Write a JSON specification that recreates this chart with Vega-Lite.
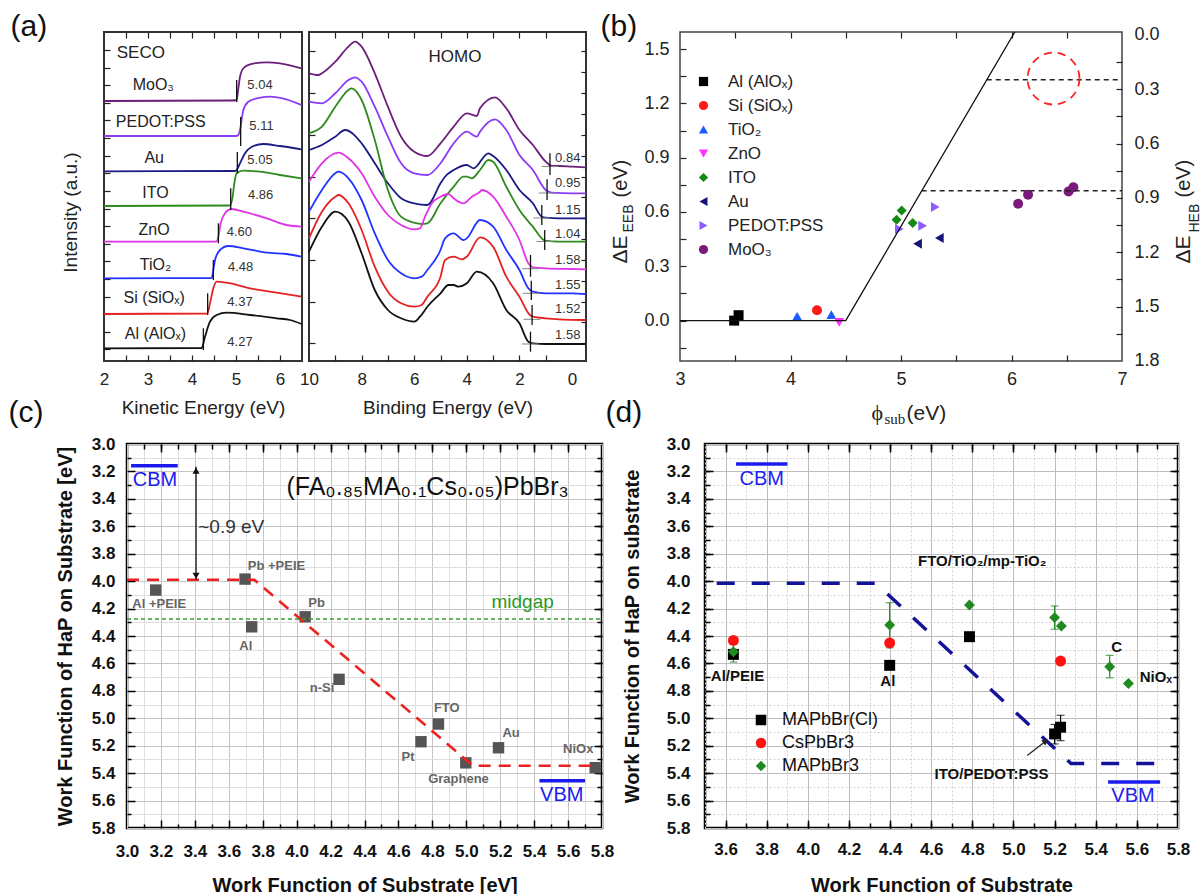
{
"$schema":"https://vega.github.io/schema/vega-lite/v6.json",
"autosize":"none",
"padding":{"left":104,"top":32,"right":1097,"bottom":862},
"background":"white",
"bounds":"flush",
"spacing":576,
"resolve":{"scale":{"color":"independent","shape":"independent"},"legend":{"color":"independent","shape":"independent"}},
"datasets":{
"seco":[
{"s":"MoO3","E":2.0,"I":260},{"s":"MoO3","E":4.9,"I":260.5},{"s":"MoO3","E":5.015,"I":261},{"s":"MoO3","E":5.06,"I":275},{"s":"MoO3","E":5.09,"I":284},{"s":"MoO3","E":5.167,"I":292.7},{"s":"MoO3","E":5.318,"I":296.7},{"s":"MoO3","E":5.697,"I":298.7},{"s":"MoO3","E":6.0,"I":297.7},{"s":"MoO3","E":6.49,"I":292.7},
{"s":"PEDOT","E":2.0,"I":225},{"s":"PEDOT","E":5.0,"I":225},{"s":"PEDOT","E":5.053,"I":226},{"s":"PEDOT","E":5.09,"I":231},{"s":"PEDOT","E":5.167,"I":251},{"s":"PEDOT","E":5.28,"I":259.3},{"s":"PEDOT","E":5.47,"I":262.7},{"s":"PEDOT","E":5.77,"I":264.3},{"s":"PEDOT","E":6.14,"I":261.7},{"s":"PEDOT","E":6.49,"I":256},
{"s":"Au","E":2.0,"I":189.7},{"s":"Au","E":4.98,"I":190},{"s":"Au","E":5.015,"I":191},{"s":"Au","E":5.09,"I":197.7},{"s":"Au","E":5.205,"I":207.7},{"s":"Au","E":5.36,"I":214.3},{"s":"Au","E":5.62,"I":217},{"s":"Au","E":6.0,"I":215},{"s":"Au","E":6.49,"I":211.7},
{"s":"ITO","E":2.0,"I":155},{"s":"ITO","E":4.864,"I":155.5},{"s":"ITO","E":4.924,"I":164.3},{"s":"ITO","E":4.962,"I":177.7},{"s":"ITO","E":5.015,"I":187.7},{"s":"ITO","E":5.167,"I":190.3},{"s":"ITO","E":5.545,"I":189.3},{"s":"ITO","E":6.0,"I":186},{"s":"ITO","E":6.49,"I":182.7},
{"s":"ZnO","E":2.0,"I":119.3},{"s":"ZnO","E":4.561,"I":119.5},{"s":"ZnO","E":4.598,"I":124.3},{"s":"ZnO","E":4.652,"I":137.7},{"s":"ZnO","E":4.75,"I":147.7},{"s":"ZnO","E":4.9,"I":152},{"s":"ZnO","E":5.167,"I":149.3},{"s":"ZnO","E":5.697,"I":142.7},{"s":"ZnO","E":6.152,"I":136},{"s":"ZnO","E":6.49,"I":134.3},
{"s":"TiO2","E":2.0,"I":82.7},{"s":"TiO2","E":4.447,"I":83},{"s":"TiO2","E":4.485,"I":91},{"s":"TiO2","E":4.523,"I":101},{"s":"TiO2","E":4.636,"I":111},{"s":"TiO2","E":4.826,"I":115},{"s":"TiO2","E":5.167,"I":112.7},{"s":"TiO2","E":5.697,"I":108.3},{"s":"TiO2","E":6.152,"I":107},{"s":"TiO2","E":6.49,"I":104.3},
{"s":"Si","E":2.0,"I":47},{"s":"Si","E":4.348,"I":47.5},{"s":"Si","E":4.409,"I":57.7},{"s":"Si","E":4.485,"I":72.7},{"s":"Si","E":4.561,"I":79.3},{"s":"Si","E":4.788,"I":78.3},{"s":"Si","E":5.318,"I":72.7},{"s":"Si","E":5.924,"I":68.3},{"s":"Si","E":6.49,"I":64.3},
{"s":"Al","E":2.0,"I":12.7},{"s":"Al","E":4.22,"I":13},{"s":"Al","E":4.295,"I":24.3},{"s":"Al","E":4.409,"I":39.3},{"s":"Al","E":4.561,"I":46},{"s":"Al","E":4.788,"I":48.3},{"s":"Al","E":5.318,"I":46},{"s":"Al","E":5.924,"I":42.7},{"s":"Al","E":6.227,"I":41},{"s":"Al","E":6.49,"I":37}
],
"secoTick":[
{"E":5.015,"I1":259,"I2":281},{"E":5.106,"I1":215,"I2":244},{"E":5.03,"I1":187.7,"I2":209},{"E":4.88,"I1":151,"I2":172.7},{"E":4.6,"I1":117.7,"I2":137.7},{"E":4.485,"I1":81,"I2":101},{"E":4.356,"I1":46,"I2":67.7},{"E":4.258,"I1":11,"I2":32.7}
],
"secoName":[
{"t":"MoO₃","E":3.12,"I":276},{"t":"PEDOT:PSS","E":3.29,"I":239.3},{"t":"Au","E":3.14,"I":202.7},{"t":"ITO","E":3.17,"I":167.7},{"t":"ZnO","E":3.14,"I":131},{"t":"TiO₂","E":3.17,"I":96},{"t":"Si (SiOₓ)","E":3.14,"I":62.7},{"t":"Al (AlOₓ)","E":3.17,"I":27}
],
"secoVal":[
{"t":"5.04","E":5.545,"I":276},{"t":"5.11","E":5.58,"I":235.3},{"t":"5.05","E":5.545,"I":201},{"t":"4.86","E":5.56,"I":166},{"t":"4.60","E":5.076,"I":128.7},{"t":"4.48","E":5.106,"I":93.7},{"t":"4.37","E":5.09,"I":59.3},{"t":"4.27","E":5.09,"I":19.3}
],
"secoTitle":[{"t":"SECO","E":2.29,"I":307.7}],
"homo":[
{"s":"MoO3","B":10,"I":287.7},{"s":"MoO3","B":9.65,"I":286},{"s":"MoO3","B":9.51,"I":287.7},{"s":"MoO3","B":9.0,"I":299.3},{"s":"MoO3","B":8.5,"I":314.3},{"s":"MoO3","B":8.25,"I":319.3},{"s":"MoO3","B":8.0,"I":314.3},{"s":"MoO3","B":7.5,"I":287.7},{"s":"MoO3","B":7.0,"I":254.3},{"s":"MoO3","B":6.5,"I":224.3},{"s":"MoO3","B":6.0,"I":209.3},{"s":"MoO3","B":5.5,"I":205},{"s":"MoO3","B":5.0,"I":217.7},{"s":"MoO3","B":4.5,"I":234.3},{"s":"MoO3","B":4.0,"I":247.7},{"s":"MoO3","B":3.62,"I":245},{"s":"MoO3","B":3.5,"I":252.7},{"s":"MoO3","B":2.93,"I":263.7},{"s":"MoO3","B":2.5,"I":252.7},{"s":"MoO3","B":2.0,"I":231},{"s":"MoO3","B":1.49,"I":216},{"s":"MoO3","B":1.0,"I":199.3},{"s":"MoO3","B":0.77,"I":195},{"s":"MoO3","B":0.49,"I":195},{"s":"MoO3","B":0.0,"I":194.3},{"s":"MoO3","B":-0.53,"I":193.7},
{"s":"PEDOT","B":10,"I":259.3},{"s":"PEDOT","B":9.51,"I":257.7},{"s":"PEDOT","B":9.0,"I":267.7},{"s":"PEDOT","B":8.5,"I":281},{"s":"PEDOT","B":8.25,"I":283.7},{"s":"PEDOT","B":8.0,"I":279.3},{"s":"PEDOT","B":7.5,"I":254.3},{"s":"PEDOT","B":7.0,"I":224.3},{"s":"PEDOT","B":6.5,"I":197.7},{"s":"PEDOT","B":6.0,"I":187.7},{"s":"PEDOT","B":5.5,"I":186},{"s":"PEDOT","B":5.0,"I":197.7},{"s":"PEDOT","B":4.5,"I":217.7},{"s":"PEDOT","B":4.0,"I":229.3},{"s":"PEDOT","B":3.62,"I":224.3},{"s":"PEDOT","B":3.5,"I":229.3},{"s":"PEDOT","B":2.93,"I":241.7},{"s":"PEDOT","B":2.5,"I":231},{"s":"PEDOT","B":2.0,"I":206},{"s":"PEDOT","B":1.49,"I":191},{"s":"PEDOT","B":1.0,"I":171},{"s":"PEDOT","B":0.77,"I":168.3},{"s":"PEDOT","B":0.0,"I":167.7},{"s":"PEDOT","B":-0.53,"I":167.7},
{"s":"Au","B":10,"I":211},{"s":"Au","B":9.51,"I":216},{"s":"Au","B":9.0,"I":224.3},{"s":"Au","B":8.63,"I":231},{"s":"Au","B":8.0,"I":217.7},{"s":"Au","B":7.5,"I":197.7},{"s":"Au","B":7.0,"I":177.7},{"s":"Au","B":6.5,"I":162.7},{"s":"Au","B":6.0,"I":157.7},{"s":"Au","B":5.5,"I":156},{"s":"Au","B":5.0,"I":177.7},{"s":"Au","B":4.83,"I":184.3},{"s":"Au","B":4.5,"I":191},{"s":"Au","B":4.0,"I":196},{"s":"Au","B":3.75,"I":192.7},{"s":"Au","B":3.18,"I":207.7},{"s":"Au","B":3.0,"I":205},{"s":"Au","B":2.5,"I":191},{"s":"Au","B":2.0,"I":171},{"s":"Au","B":1.49,"I":157.7},{"s":"Au","B":1.15,"I":144.3},{"s":"Au","B":1.0,"I":143.3},{"s":"Au","B":0.49,"I":142.7},{"s":"Au","B":-0.53,"I":142.7},
{"s":"ITO","B":10,"I":227.7},{"s":"ITO","B":9.51,"I":234.3},{"s":"ITO","B":9.0,"I":254.3},{"s":"ITO","B":8.5,"I":271},{"s":"ITO","B":8.38,"I":272.7},{"s":"ITO","B":8.0,"I":261},{"s":"ITO","B":7.5,"I":221},{"s":"ITO","B":7.0,"I":171},{"s":"ITO","B":6.5,"I":144.3},{"s":"ITO","B":6.0,"I":138.3},{"s":"ITO","B":5.72,"I":137},{"s":"ITO","B":5.5,"I":137.7},{"s":"ITO","B":5.0,"I":157.7},{"s":"ITO","B":4.5,"I":174.3},{"s":"ITO","B":4.13,"I":184.3},{"s":"ITO","B":4.0,"I":184.3},{"s":"ITO","B":3.81,"I":182.7},{"s":"ITO","B":3.5,"I":191},{"s":"ITO","B":3.18,"I":201},{"s":"ITO","B":3.0,"I":199.3},{"s":"ITO","B":2.5,"I":174.3},{"s":"ITO","B":2.0,"I":151},{"s":"ITO","B":1.49,"I":134.3},{"s":"ITO","B":1.03,"I":120.3},{"s":"ITO","B":0.49,"I":119.3},{"s":"ITO","B":-0.53,"I":119.3},
{"s":"ZnO","B":10,"I":179.3},{"s":"ZnO","B":9.51,"I":197.7},{"s":"ZnO","B":8.88,"I":208.3},{"s":"ZnO","B":8.5,"I":202.7},{"s":"ZnO","B":8.0,"I":187.7},{"s":"ZnO","B":7.5,"I":164.3},{"s":"ZnO","B":7.0,"I":146},{"s":"ZnO","B":6.5,"I":136},{"s":"ZnO","B":6.0,"I":131.7},{"s":"ZnO","B":5.78,"I":132.7},{"s":"ZnO","B":5.59,"I":144.3},{"s":"ZnO","B":5.33,"I":157.7},{"s":"ZnO","B":5.0,"I":164.3},{"s":"ZnO","B":4.7,"I":167},{"s":"ZnO","B":4.5,"I":162.7},{"s":"ZnO","B":4.13,"I":157.7},{"s":"ZnO","B":3.81,"I":164.3},{"s":"ZnO","B":3.5,"I":169.3},{"s":"ZnO","B":3.43,"I":171},{"s":"ZnO","B":3.0,"I":164.3},{"s":"ZnO","B":2.5,"I":144.3},{"s":"ZnO","B":2.0,"I":121},{"s":"ZnO","B":1.66,"I":97.7},{"s":"ZnO","B":1.49,"I":93.7},{"s":"ZnO","B":1.0,"I":92.7},{"s":"ZnO","B":0.0,"I":92},{"s":"ZnO","B":-0.53,"I":91.7},
{"s":"TiO2","B":10,"I":149.3},{"s":"TiO2","B":9.51,"I":171},{"s":"TiO2","B":9.0,"I":187.7},{"s":"TiO2","B":8.88,"I":189.3},{"s":"TiO2","B":8.5,"I":182.7},{"s":"TiO2","B":8.0,"I":161},{"s":"TiO2","B":7.5,"I":127.7},{"s":"TiO2","B":7.0,"I":101},{"s":"TiO2","B":6.5,"I":87.7},{"s":"TiO2","B":6.0,"I":82.7},{"s":"TiO2","B":5.72,"I":84.3},{"s":"TiO2","B":5.5,"I":91},{"s":"TiO2","B":5.0,"I":111},{"s":"TiO2","B":4.83,"I":122.7},{"s":"TiO2","B":4.5,"I":127.7},{"s":"TiO2","B":4.13,"I":121},{"s":"TiO2","B":4.0,"I":122.7},{"s":"TiO2","B":3.5,"I":141},{"s":"TiO2","B":3.0,"I":134.3},{"s":"TiO2","B":2.5,"I":111},{"s":"TiO2","B":2.0,"I":91},{"s":"TiO2","B":1.66,"I":72.7},{"s":"TiO2","B":1.49,"I":69.3},{"s":"TiO2","B":1.0,"I":67.7},{"s":"TiO2","B":0.0,"I":67.7},{"s":"TiO2","B":-0.53,"I":67},
{"s":"Si","B":10,"I":122.7},{"s":"Si","B":9.51,"I":149.3},{"s":"Si","B":9.0,"I":164.3},{"s":"Si","B":8.88,"I":166},{"s":"Si","B":8.5,"I":157.7},{"s":"Si","B":8.0,"I":131},{"s":"Si","B":7.5,"I":94.3},{"s":"Si","B":7.0,"I":69.3},{"s":"Si","B":6.5,"I":57.7},{"s":"Si","B":6.0,"I":54.3},{"s":"Si","B":5.72,"I":56},{"s":"Si","B":5.5,"I":64.3},{"s":"Si","B":5.0,"I":84.3},{"s":"Si","B":4.83,"I":101},{"s":"Si","B":4.5,"I":104.3},{"s":"Si","B":4.19,"I":101.7},{"s":"Si","B":4.0,"I":104.3},{"s":"Si","B":3.5,"I":123.7},{"s":"Si","B":3.0,"I":114.3},{"s":"Si","B":2.5,"I":84.3},{"s":"Si","B":2.0,"I":64.3},{"s":"Si","B":1.6,"I":46},{"s":"Si","B":1.49,"I":44.3},{"s":"Si","B":1.0,"I":42.7},{"s":"Si","B":0.49,"I":41.7},{"s":"Si","B":-0.53,"I":41},
{"s":"Al","B":10,"I":109.3},{"s":"Al","B":9.51,"I":134.3},{"s":"Al","B":9.0,"I":149.3},{"s":"Al","B":8.5,"I":139.3},{"s":"Al","B":8.0,"I":107.7},{"s":"Al","B":7.5,"I":71},{"s":"Al","B":7.0,"I":51},{"s":"Al","B":6.5,"I":42.7},{"s":"Al","B":6.0,"I":39.3},{"s":"Al","B":5.78,"I":44.3},{"s":"Al","B":5.5,"I":54.3},{"s":"Al","B":5.0,"I":67.7},{"s":"Al","B":4.7,"I":76},{"s":"Al","B":4.5,"I":76},{"s":"Al","B":4.32,"I":74.3},{"s":"Al","B":4.0,"I":77.7},{"s":"Al","B":3.62,"I":89.3},{"s":"Al","B":3.0,"I":77.7},{"s":"Al","B":2.5,"I":51},{"s":"Al","B":2.0,"I":37.7},{"s":"Al","B":1.66,"I":19.3},{"s":"Al","B":1.49,"I":17.7},{"s":"Al","B":1.0,"I":17},{"s":"Al","B":-0.53,"I":17}
],
"homoTick":[
{"B":0.84,"I1":186,"I2":207.7},{"B":0.95,"I1":161,"I2":181.7},{"B":1.15,"I1":136,"I2":156},{"B":1.04,"I1":111,"I2":131},{"B":1.58,"I1":84.3,"I2":106},{"B":1.55,"I1":61,"I2":80.3},{"B":1.52,"I1":36,"I2":56},{"B":1.58,"I1":9.3,"I2":29.3}
],
"homoBase":[
{"B1":1.16,"B2":0.52,"I":194.5},{"B1":1.27,"B2":0.63,"I":168},{"B1":1.47,"B2":0.83,"I":143},{"B1":1.36,"B2":0.72,"I":119.5},{"B1":1.9,"B2":1.26,"I":92.3},{"B1":1.87,"B2":1.23,"I":67.7},{"B1":1.84,"B2":1.2,"I":41.7},{"B1":1.9,"B2":1.26,"I":17}
],
"homoVal":[
{"t":"0.84","B":0.646,"I":203.3},{"t":"0.95","B":0.646,"I":177.7},{"t":"1.15","B":0.646,"I":151},{"t":"1.04","B":0.646,"I":127},{"t":"1.58","B":0.646,"I":101},{"t":"1.55","B":0.646,"I":76},{"t":"1.52","B":0.646,"I":51.7},{"t":"1.58","B":0.646,"I":26}
],
"homoTitle":[{"t":"HOMO","B":4.45,"I":304}],
"bpts":[
{"m":"Al (AlOₓ)","x":3.49,"y":0.0},{"m":"Al (AlOₓ)","x":3.53,"y":0.03},
{"m":"Si (SiOₓ)","x":4.24,"y":0.057},
{"m":"TiO₂","x":4.06,"y":0.024},{"m":"TiO₂","x":4.37,"y":0.033},
{"m":"ZnO","x":4.44,"y":-0.01},
{"m":"ITO","x":5.006,"y":0.608},{"m":"ITO","x":4.96,"y":0.557},{"m":"ITO","x":5.106,"y":0.539},
{"m":"Au","x":5.15,"y":0.425},{"m":"Au","x":5.347,"y":0.456},
{"m":"PEDOT:PSS","x":4.985,"y":0.506},{"m":"PEDOT:PSS","x":5.196,"y":0.524},{"m":"PEDOT:PSS","x":5.31,"y":0.627},
{"m":"MoO₃","x":6.06,"y":0.645},{"m":"MoO₃","x":6.15,"y":0.695},{"m":"MoO₃","x":6.516,"y":0.713},{"m":"MoO₃","x":6.56,"y":0.737}
],
"bline":[{"x":3,"y":0},{"x":4.5,"y":0},{"x":6.03,"y":1.594}],
"bdash":[{"g":"a","x":5.776,"y":1.33},{"g":"a","x":7,"y":1.33},{"g":"b","x":5.187,"y":0.717},{"g":"b","x":7,"y":0.717}],
"bcircle":[{"x":6.38,"y":1.337}],
"cpts":[
{"n":"Al +PEIE","x":3.169,"y":4.065},{"n":"Pb +PEIE","x":3.696,"y":3.985},{"n":"Al","x":3.735,"y":4.333},{"n":"Pb","x":4.05,"y":4.26},{"n":"n-Si","x":4.25,"y":4.716},{"n":"Pt","x":4.733,"y":5.171},{"n":"FTO","x":4.836,"y":5.042},{"n":"Graphene","x":4.997,"y":5.325},{"n":"Au","x":5.19,"y":5.215},{"n":"NiOx","x":5.76,"y":5.36}
],
"clab":[
{"t":"Al +PEIE","x":3.19,"y":4.17},{"t":"Pb +PEIE","x":3.881,"y":3.888},{"t":"Al","x":3.70,"y":4.473},{"t":"Pb","x":4.118,"y":4.157},{"t":"n-Si","x":4.15,"y":4.78},{"t":"Pt","x":4.657,"y":5.28},{"t":"FTO","x":4.885,"y":4.928},{"t":"Graphene","x":4.954,"y":5.443},{"t":"Au","x":5.264,"y":5.106},{"t":"NiOx","x":5.66,"y":5.227}
],
"cred":[{"x":3.0,"y":3.99},{"x":3.75,"y":3.99},{"x":5.04,"y":5.346},{"x":5.78,"y":5.346}],
"cmid":[{"x":3.0,"y":4.276},{"x":5.8,"y":4.276}],
"cband":[{"x1":3.024,"x2":3.299,"y":3.158},{"x1":5.431,"x2":5.70,"y":5.456}],
"cbandText":[{"t":"CBM","x":3.165,"y":3.263},{"t":"VBM","x":5.563,"y":5.56}],
"carrow":[{"x":3.407,"y1":3.165,"y2":3.99}],
"cnote":[{"t":"~0.9 eV","x":3.42,"y":3.608}],
"cmidText":[{"t":"midgap","x":5.332,"y":4.15}],
"cformula":[{"t":"(FA₀.₈₅MA₀.₁Cs₀.₀₅)PbBr₃","x":4.772,"y":3.31}],
"dpts":[
{"series":"MAPbBr(Cl)","x":3.638,"y":4.534},{"series":"MAPbBr(Cl)","x":4.398,"y":4.614},{"series":"MAPbBr(Cl)","x":4.786,"y":4.405},{"series":"MAPbBr(Cl)","x":5.2,"y":5.114},{"series":"MAPbBr(Cl)","x":5.229,"y":5.065},
{"series":"CsPbBr3","x":3.638,"y":4.432},{"series":"CsPbBr3","x":4.398,"y":4.451},{"series":"CsPbBr3","x":5.229,"y":4.583},
{"series":"MAPbBr3","x":3.638,"y":4.515},{"series":"MAPbBr3","x":4.398,"y":4.32},{"series":"MAPbBr3","x":4.786,"y":4.174},{"series":"MAPbBr3","x":5.2,"y":4.266},{"series":"MAPbBr3","x":5.233,"y":4.327},{"series":"MAPbBr3","x":5.468,"y":4.624},{"series":"MAPbBr3","x":5.559,"y":4.746}
],
"derrG":[
{"x":3.638,"lo":4.46,"hi":4.59},{"x":4.398,"lo":4.157,"hi":4.486},{"x":5.2,"lo":4.181,"hi":4.351},{"x":5.468,"lo":4.541,"hi":4.705}
],
"derrK":[
{"x":5.2,"lo":5.045,"hi":5.187},{"x":5.229,"lo":4.978,"hi":5.163}
],
"dline":[{"x":3.557,"y":4.015},{"x":4.33,"y":4.015},{"x":5.28,"y":5.33},{"x":5.733,"y":5.33}],
"dband":[{"x1":3.651,"x2":3.901,"y":3.146},{"x1":5.46,"x2":5.713,"y":5.464}],
"dbandText":[{"t":"CBM","x":3.776,"y":3.256},{"t":"VBM","x":5.581,"y":5.569}],
"dlab":[
{"t":"Al/PEIE","x":3.658,"y":4.693},{"t":"Al","x":4.389,"y":4.729},{"t":"FTO/TiO₂/mp-TiO₂","x":4.848,"y":3.852},{"t":"ITO/PEDOT:PSS","x":4.893,"y":5.406},{"t":"C","x":5.502,"y":4.481},{"t":"NiOₓ","x":5.692,"y":4.70}
],
"darrow":[{"x":5.067,"y":5.272,"x2":5.156,"y2":5.167}]
},
"hconcat":[
{"vconcat":[
 {"hconcat":[
  {"width":198,"height":329,
   "view":{"stroke":"#333","strokeWidth":2},
   "resolve":{"axis":{"x":"independent","y":"independent"}},
   "layer":[
    {"data":{"name":"seco"},"mark":{"type":"line","strokeWidth":1.8,"interpolate":"monotone"},
     "encoding":{
      "x":{"field":"E","type":"quantitative","scale":{"domain":[2,6.5],"nice":false,"zero":false},"axis":{"orient":"bottom","values":[2,3,4,5,6],"ticks":false,"labelFontSize":17,"labelPadding":10,"labelFlush":false,"labelOverlap":false,"title":"Kinetic Energy (eV)","titleFontSize":19,"titleY":46,"titleBaseline":"middle"}},
      "y":{"field":"I","type":"quantitative","scale":{"domain":[0,329],"nice":false,"zero":false},"axis":{"orient":"left","values":[11.7,29.3,46.9,64.5,82.1,99.7,117.3,134.9,152.5,170.1,187.7,205.3,222.9,240.5,258.1,275.7,293.3,310.9],"labels":false,"tickSize":-6,"title":"Intensity (a.u.)","titleFontSize":19,"titleAngle":270,"titleX":-34,"titleY":180,"titleAlign":"center","titleBaseline":"middle"}},
      "color":{"field":"s","type":"nominal","scale":{"domain":["MoO3","PEDOT","Au","ITO","ZnO","TiO2","Si","Al"],"range":["#6b1f7b","#8a3cf5","#1b1b85","#2e8a1e","#e033e8","#2233ff","#e52222","#111111"]},"legend":null}
     }},
    {"data":{"name":"secoTick"},"mark":{"type":"rule","color":"#111","strokeWidth":1.3},
     "encoding":{
      "x":{"field":"E","type":"quantitative","scale":{"domain":[2,6.5],"nice":false,"zero":false},"axis":{"orient":"top","values":[2.5,3,3.5,4,4.5,5,5.5,6],"labels":false,"tickSize":-6,"title":null}},
      "y":{"field":"I1","type":"quantitative","scale":{"domain":[0,329],"nice":false,"zero":false},"axis":null},
      "y2":{"field":"I2"}
     }},
    {"data":{"name":"secoName"},"mark":{"type":"text","fontSize":16,"color":"#222"},
     "encoding":{
      "x":{"field":"E","type":"quantitative","scale":{"domain":[2,6.5],"nice":false,"zero":false},"axis":{"orient":"bottom","values":[2.5,3,3.5,4,4.5,5,5.5,6],"labels":false,"tickSize":-6,"title":null}},
      "y":{"field":"I","type":"quantitative","scale":{"domain":[0,329],"nice":false,"zero":false},"axis":null},
      "text":{"field":"t"}
     }},
    {"data":{"name":"secoVal"},"mark":{"type":"text","fontSize":13,"color":"#333"},
     "encoding":{
      "x":{"field":"E","type":"quantitative","scale":{"domain":[2,6.5],"nice":false,"zero":false},"axis":{"orient":"top","labels":false,"ticks":false,"title":"(a)","titleFontSize":30,"titleColor":"#111","titleX":-94,"titleY":3,"titleAlign":"left","titleBaseline":"alphabetic"}},
      "y":{"field":"I","type":"quantitative","scale":{"domain":[0,329],"nice":false,"zero":false},"axis":null},
      "text":{"field":"t"}
     }},
    {"data":{"name":"secoTitle"},"mark":{"type":"text","fontSize":17,"align":"left","color":"#222"},
     "encoding":{
      "x":{"field":"E","type":"quantitative","scale":{"domain":[2,6.5],"nice":false,"zero":false},"axis":null},
      "y":{"field":"I","type":"quantitative","scale":{"domain":[0,329],"nice":false,"zero":false},"axis":null},
      "text":{"field":"t"}
     }}
   ]},
  {"width":277,"height":329,
   "view":{"stroke":"#333","strokeWidth":2},
   "resolve":{"axis":{"x":"independent","y":"independent"}},
   "layer":[
    {"data":{"name":"homo"},"mark":{"type":"line","strokeWidth":1.8,"interpolate":"monotone"},
     "encoding":{
      "x":{"field":"B","type":"quantitative","scale":{"domain":[-0.53,10],"reverse":true,"nice":false,"zero":false},"axis":{"orient":"bottom","values":[10,8,6,4,2,0],"ticks":false,"labelFontSize":17,"labelPadding":10,"labelFlush":false,"labelOverlap":false,"title":"Binding Energy (eV)","titleFontSize":19,"titleY":46,"titleBaseline":"middle"}},
      "y":{"field":"I","type":"quantitative","scale":{"domain":[0,329],"nice":false,"zero":false},"axis":{"orient":"left","values":[17.7,59.4,101.1,142.8,184.5,226.2,267.9,309.6],"labels":false,"tickSize":-6,"title":null}},
      "color":{"field":"s","type":"nominal","scale":{"domain":["MoO3","PEDOT","Au","ITO","ZnO","TiO2","Si","Al"],"range":["#6b1f7b","#8a3cf5","#1b1b85","#2e8a1e","#e033e8","#2233ff","#e52222","#111111"]},"legend":null}
     }},
    {"data":{"name":"homoBase"},"mark":{"type":"rule","color":"#888","strokeWidth":1},
     "encoding":{
      "x":{"field":"B1","type":"quantitative","scale":{"domain":[-0.53,10],"reverse":true,"nice":false,"zero":false},"axis":{"orient":"top","values":[1,2,3,4,5,6,7,8,9],"labels":false,"tickSize":-6,"title":null}},
      "x2":{"field":"B2"},
      "y":{"field":"I","type":"quantitative","scale":{"domain":[0,329],"nice":false,"zero":false},"axis":{"orient":"right","values":[17.7,38.55,59.4,80.25,101.1,121.95,142.8,163.65,184.5,205.35,226.2,247.05,267.9,288.75,309.6],"labels":false,"tickSize":-5,"title":null}}
     }},
    {"data":{"name":"homoTick"},"mark":{"type":"rule","color":"#111","strokeWidth":1.3},
     "encoding":{
      "x":{"field":"B","type":"quantitative","scale":{"domain":[-0.53,10],"reverse":true,"nice":false,"zero":false},"axis":{"orient":"bottom","values":[1,2,3,4,5,6,7,8,9],"labels":false,"tickSize":-6,"title":null}},
      "y":{"field":"I1","type":"quantitative","scale":{"domain":[0,329],"nice":false,"zero":false},"axis":null},
      "y2":{"field":"I2"}
     }},
    {"data":{"name":"homoVal"},"mark":{"type":"text","fontSize":13,"align":"left","color":"#333"},
     "encoding":{
      "x":{"field":"B","type":"quantitative","scale":{"domain":[-0.53,10],"reverse":true,"nice":false,"zero":false},"axis":null},
      "y":{"field":"I","type":"quantitative","scale":{"domain":[0,329],"nice":false,"zero":false},"axis":null},
      "text":{"field":"t"}
     }},
    {"data":{"name":"homoTitle"},"mark":{"type":"text","fontSize":17,"color":"#222"},
     "encoding":{
      "x":{"field":"B","type":"quantitative","scale":{"domain":[-0.53,10],"reverse":true,"nice":false,"zero":false},"axis":null},
      "y":{"field":"I","type":"quantitative","scale":{"domain":[0,329],"nice":false,"zero":false},"axis":null},
      "text":{"field":"t"}
     }}
   ]}
 ],"spacing":7,"bounds":"flush","resolve":{"scale":{"color":"independent","shape":"independent"}}},
 {"hconcat":[
  {"width":1,"height":1,"view":{"stroke":null},"data":{"values":[{"v":0}]},"mark":{"type":"point","opacity":0},
   "encoding":{"x":{"field":"v","type":"quantitative","axis":null},"y":{"field":"v","type":"quantitative","axis":null}}},
  {"width":475,"height":384,
   "view":{"stroke":"#000","strokeWidth":2.5},
   "resolve":{"axis":{"x":"independent","y":"independent"}},
   "layer":[
    {"data":{"name":"cpts"},"mark":{"type":"square","size":130,"color":"#555555","opacity":1},
     "encoding":{
      "x":{"field":"x","type":"quantitative","scale":{"domain":[3,5.8],"nice":false,"zero":false},"axis":{"orient":"bottom","values":[3,3.2,3.4,3.6,3.8,4,4.2,4.4,4.6,4.8,5,5.2,5.4,5.6,5.8],"format":".1f","ticks":false,"grid":true,"gridColor":"#c4c4c4","gridWidth":1,"labelFontSize":17,"labelFontWeight":"bold","labelColor":"#111","labelPadding":15,"labelFlush":false,"labelOverlap":false,"title":"Work Function of Substrate [eV]","titleFontSize":20,"titleFontWeight":"bold","titleColor":"#111","titleY":57,"titleBaseline":"middle"}},
      "y":{"field":"y","type":"quantitative","scale":{"domain":[3,5.8],"reverse":true,"nice":false,"zero":false},"axis":{"orient":"left","values":[3,3.2,3.4,3.6,3.8,4,4.2,4.4,4.6,4.8,5,5.2,5.4,5.6,5.8],"format":".1f","ticks":false,"grid":true,"gridColor":"#c4c4c4","gridWidth":1,"labelFontSize":17,"labelFontWeight":"bold","labelColor":"#111","labelPadding":12,"labelFlush":false,"labelOverlap":false,"title":"Work Function of HaP on Substrate [eV]","titleFontSize":20,"titleFontWeight":"bold","titleColor":"#111","titleAngle":270,"titleX":-62,"titleY":192,"titleAlign":"center","titleBaseline":"middle"}}
     }},
    {"data":{"name":"clab"},"mark":{"type":"text","fontSize":13,"fontWeight":"bold","color":"#666666"},
     "encoding":{
      "x":{"field":"x","type":"quantitative","scale":{"domain":[3,5.8],"nice":false,"zero":false},"axis":{"orient":"bottom","values":[3.1,3.3,3.5,3.7,3.9,4.1,4.3,4.5,4.7,4.9,5.1,5.3,5.5,5.7],"labels":false,"ticks":false,"grid":true,"gridColor":"#dedede","gridWidth":1,"title":null}},
      "y":{"field":"y","type":"quantitative","scale":{"domain":[3,5.8],"reverse":true,"nice":false,"zero":false},"axis":{"orient":"left","values":[3.1,3.3,3.5,3.7,3.9,4.1,4.3,4.5,4.7,4.9,5.1,5.3,5.5,5.7],"labels":false,"ticks":false,"grid":true,"gridColor":"#dedede","gridWidth":1,"title":null}},
      "text":{"field":"t"}
     }},
    {"data":{"name":"cred"},"mark":{"type":"line","color":"#ee2020","strokeWidth":2.6,"strokeDash":[12,8]},
     "encoding":{
      "x":{"field":"x","type":"quantitative","scale":{"domain":[3,5.8],"nice":false,"zero":false},"axis":{"orient":"bottom","values":[3.1,3.3,3.5,3.7,3.9,4.1,4.3,4.5,4.7,4.9,5.1,5.3,5.5,5.7],"labels":false,"tickSize":-4,"tickColor":"#000","tickWidth":1.5,"title":null}},
      "y":{"field":"y","type":"quantitative","scale":{"domain":[3,5.8],"reverse":true,"nice":false,"zero":false},"axis":{"orient":"left","values":[3.1,3.3,3.5,3.7,3.9,4.1,4.3,4.5,4.7,4.9,5.1,5.3,5.5,5.7],"labels":false,"tickSize":-4,"tickColor":"#000","tickWidth":1.5,"title":null}}
     }},
    {"data":{"name":"cmid"},"mark":{"type":"line","color":"#3a9a3a","strokeWidth":1.3,"strokeDash":[4,3]},
     "encoding":{
      "x":{"field":"x","type":"quantitative","scale":{"domain":[3,5.8],"nice":false,"zero":false},"axis":{"orient":"top","values":[3.1,3.2,3.3,3.4,3.5,3.6,3.7,3.8,3.9,4,4.1,4.2,4.3,4.4,4.5,4.6,4.7,4.8,4.9,5,5.1,5.2,5.3,5.4,5.5,5.6,5.7],"labels":false,"tickSize":-5,"tickColor":"#000","tickWidth":1.5,"title":null}},
      "y":{"field":"y","type":"quantitative","scale":{"domain":[3,5.8],"reverse":true,"nice":false,"zero":false},"axis":{"orient":"right","values":[3.1,3.2,3.3,3.4,3.5,3.6,3.7,3.8,3.9,4,4.1,4.2,4.3,4.4,4.5,4.6,4.7,4.8,4.9,5,5.1,5.2,5.3,5.4,5.5,5.6,5.7],"labels":false,"tickSize":-5,"tickColor":"#000","tickWidth":1.5,"title":null}}
     }},
    {"data":{"name":"cband"},"mark":{"type":"rule","color":"#1a1aee","strokeWidth":3.5},
     "encoding":{
      "x":{"field":"x1","type":"quantitative","scale":{"domain":[3,5.8],"nice":false,"zero":false},"axis":{"orient":"bottom","values":[3.2,3.4,3.6,3.8,4,4.2,4.4,4.6,4.8,5,5.2,5.4,5.6],"labels":false,"tickSize":-8,"tickColor":"#000","tickWidth":1.5,"title":null}},
      "x2":{"field":"x2"},
      "y":{"field":"y","type":"quantitative","scale":{"domain":[3,5.8],"reverse":true,"nice":false,"zero":false},"axis":{"orient":"left","values":[3.2,3.4,3.6,3.8,4,4.2,4.4,4.6,4.8,5,5.2,5.4,5.6],"labels":false,"tickSize":-8,"tickColor":"#000","tickWidth":1.5,"title":null}}
     }},
    {"data":{"name":"cbandText"},"mark":{"type":"text","fontSize":20,"color":"#1a1aee"},
     "encoding":{
      "x":{"field":"x","type":"quantitative","scale":{"domain":[3,5.8],"nice":false,"zero":false},"axis":{"orient":"top","values":[3.2,3.4,3.6,3.8,4,4.2,4.4,4.6,4.8,5,5.2,5.4,5.6],"labels":false,"tickSize":-8,"tickColor":"#000","tickWidth":1.5,"title":null}},
      "y":{"field":"y","type":"quantitative","scale":{"domain":[3,5.8],"reverse":true,"nice":false,"zero":false},"axis":{"orient":"right","values":[3.2,3.4,3.6,3.8,4,4.2,4.4,4.6,4.8,5,5.2,5.4,5.6],"labels":false,"tickSize":-8,"tickColor":"#000","tickWidth":1.5,"title":null}},
      "text":{"field":"t"}
     }},
    {"data":{"name":"carrow"},"mark":{"type":"rule","color":"#111","strokeWidth":1.3},
     "encoding":{
      "x":{"field":"x","type":"quantitative","scale":{"domain":[3,5.8],"nice":false,"zero":false},"axis":{"orient":"top","labels":false,"ticks":false,"title":"(c)","titleFontSize":30,"titleColor":"#111","titleX":-119,"titleY":-23,"titleAlign":"left","titleBaseline":"alphabetic"}},
      "y":{"field":"y1","type":"quantitative","scale":{"domain":[3,5.8],"reverse":true,"nice":false,"zero":false},"axis":null},
      "y2":{"field":"y2"}
     }},
    {"data":{"name":"carrow"},"mark":{"type":"point","shape":"triangle-up","size":50,"filled":true,"color":"#111","opacity":1,"yOffset":4},
     "encoding":{
      "x":{"field":"x","type":"quantitative","scale":{"domain":[3,5.8],"nice":false,"zero":false},"axis":null},
      "y":{"field":"y1","type":"quantitative","scale":{"domain":[3,5.8],"reverse":true,"nice":false,"zero":false},"axis":null}
     }},
    {"data":{"name":"carrow"},"mark":{"type":"point","shape":"triangle-down","size":50,"filled":true,"color":"#111","opacity":1,"yOffset":-4},
     "encoding":{
      "x":{"field":"x","type":"quantitative","scale":{"domain":[3,5.8],"nice":false,"zero":false},"axis":null},
      "y":{"field":"y2","type":"quantitative","scale":{"domain":[3,5.8],"reverse":true,"nice":false,"zero":false},"axis":null}
     }},
    {"data":{"name":"cnote"},"mark":{"type":"text","fontSize":19,"align":"left","color":"#333"},
     "encoding":{
      "x":{"field":"x","type":"quantitative","scale":{"domain":[3,5.8],"nice":false,"zero":false},"axis":null},
      "y":{"field":"y","type":"quantitative","scale":{"domain":[3,5.8],"reverse":true,"nice":false,"zero":false},"axis":null},
      "text":{"field":"t"}
     }},
    {"data":{"name":"cmidText"},"mark":{"type":"text","fontSize":19,"color":"#2a9a2a"},
     "encoding":{
      "x":{"field":"x","type":"quantitative","scale":{"domain":[3,5.8],"nice":false,"zero":false},"axis":null},
      "y":{"field":"y","type":"quantitative","scale":{"domain":[3,5.8],"reverse":true,"nice":false,"zero":false},"axis":null},
      "text":{"field":"t"}
     }},
    {"data":{"name":"cformula"},"mark":{"type":"text","fontSize":25,"color":"#111"},
     "encoding":{
      "x":{"field":"x","type":"quantitative","scale":{"domain":[3,5.8],"nice":false,"zero":false},"axis":null},
      "y":{"field":"y","type":"quantitative","scale":{"domain":[3,5.8],"reverse":true,"nice":false,"zero":false},"axis":null},
      "text":{"field":"t"}
     }}
   ]}
 ],"spacing":22,"bounds":"flush","resolve":{"scale":{"color":"independent","shape":"independent"}}}
],"spacing":412,"bounds":"flush","resolve":{"scale":{"color":"independent","shape":"independent"}}},
{"vconcat":[
  {"width":442,"height":329,
  "view":{"stroke":"#444","strokeWidth":1.5},
  "resolve":{"axis":{"x":"independent","y":"independent"}},
  "layer":[
   {"data":{"name":"bpts"},"mark":{"type":"point","filled":true,"size":100,"opacity":1},
    "encoding":{
     "x":{"field":"x","type":"quantitative","scale":{"domain":[3,7],"nice":false,"zero":false},"axis":{"orient":"bottom","values":[3,4,5,6,7],"format":"d","ticks":false,"labelFontSize":18,"labelPadding":9,"labelFlush":false,"labelOverlap":false,"title":"ϕ","titleFont":"Liberation Serif","titleFontSize":22,"titleX":191,"titleY":58,"titleAlign":"left","titleBaseline":"alphabetic"}},
     "y":{"field":"y","type":"quantitative","scale":{"domain":[-0.223,1.594],"nice":false,"zero":false},"axis":{"orient":"left","values":[0,0.3,0.6,0.9,1.2,1.5],"format":".1f","ticks":false,"labelFontSize":18,"labelPadding":11,"labelOverlap":false,"title":"ΔE","titleFontSize":21,"titleAngle":270,"titleX":-60,"titleY":231,"titleAlign":"left","titleBaseline":"middle"}},
     "color":{"field":"m","type":"nominal","scale":{"domain":["Al (AlOₓ)","Si (SiOₓ)","TiO₂","ZnO","ITO","Au","PEDOT:PSS","MoO₃"],"range":["#000000","#ff1a1a","#1a5cff","#ff33ff","#138a13","#141478","#8c5cff","#7a1a7a"]},
      "legend":{"orient":"none","legendX":15,"legendY":41,"title":null,"labelFontSize":17,"symbolSize":85,"labelOffset":16,"rowPadding":6,"padding":0,"labelColor":"#222"}},
     "shape":{"field":"m","type":"nominal","scale":{"domain":["Al (AlOₓ)","Si (SiOₓ)","TiO₂","ZnO","ITO","Au","PEDOT:PSS","MoO₃"],"range":["square","circle","triangle-up","triangle-down","diamond","triangle-left","triangle-right","circle"]},
      "legend":{"orient":"none","legendX":15,"legendY":41,"title":null,"labelFontSize":17,"symbolSize":85,"labelOffset":16,"rowPadding":6,"padding":0,"labelColor":"#222"}}
    }},
   {"data":{"name":"bline"},"mark":{"type":"line","color":"#111","strokeWidth":1.3,"clip":true},
    "encoding":{
     "x":{"field":"x","type":"quantitative","scale":{"domain":[3,7],"nice":false,"zero":false},"axis":{"orient":"top","values":[3.5,4,4.5,5,5.5,6,6.5],"labels":false,"tickSize":-6,"title":null}},
     "y":{"field":"y","type":"quantitative","scale":{"domain":[-0.223,1.594],"nice":false,"zero":false},"axis":{"orient":"right","values":[1.4275,1.2775,1.1275,0.9775,0.8275,0.6775,0.5275,0.3775,0.2275,0.0775,-0.0725],"labels":false,"tickSize":-6,"title":null}}
    }},
   {"data":{"name":"bdash"},"mark":{"type":"line","color":"#222","strokeWidth":1.5,"strokeDash":[5,4]},
    "encoding":{
     "x":{"field":"x","type":"quantitative","scale":{"domain":[3,7],"nice":false,"zero":false},"axis":{"orient":"bottom","values":[3.5,4,4.5,5,5.5,6,6.5],"labels":false,"tickSize":-6,"title":null}},
     "y":{"field":"y","type":"quantitative","scale":{"domain":[-0.223,1.594],"nice":false,"zero":false},"axis":{"orient":"left","values":[-0.15,0,0.15,0.3,0.45,0.6,0.75,0.9,1.05,1.2,1.35,1.5],"labels":false,"tickSize":-6,"title":null}},
     "detail":{"field":"g"}
    }},
   {"data":{"name":"bcircle"},"mark":{"type":"point","shape":"circle","size":2700,"filled":false,"color":"#ff2020","strokeWidth":1.8,"strokeDash":[8,6],"opacity":1},
    "encoding":{
     "x":{"field":"x","type":"quantitative","scale":{"domain":[3,7],"nice":false,"zero":false},"axis":{"orient":"bottom","labels":false,"ticks":false,"title":"sub","titleFont":"Liberation Serif","titleFontSize":15,"titleX":204,"titleY":62,"titleAlign":"left","titleBaseline":"alphabetic"}},
     "y":{"field":"y","type":"quantitative","scale":{"domain":[-0.223,1.594],"nice":false,"zero":false},"axis":{"orient":"right","values":[1.5775,1.2775,0.9775,0.6775,0.3775,0.0775,-0.2225],"labelExpr":"format(1.5775 - datum.value, '.1f')","ticks":false,"labelFontSize":18,"labelPadding":12,"labelOverlap":false,"labelFlush":false,"title":"ΔE","titleFontSize":21,"titleAngle":270,"titleX":61,"titleY":231,"titleAlign":"left","titleBaseline":"middle"}}
    }},
   {"data":{"name":"bcircle"},"mark":{"type":"point","opacity":0},
    "encoding":{
     "x":{"field":"x","type":"quantitative","scale":{"domain":[3,7],"nice":false,"zero":false},"axis":{"orient":"bottom","labels":false,"ticks":false,"title":"(eV)","titleFontSize":21,"titleX":226,"titleY":58,"titleAlign":"left","titleBaseline":"alphabetic"}},
     "y":{"field":"y","type":"quantitative","scale":{"domain":[-0.223,1.594],"nice":false,"zero":false},"axis":{"orient":"left","labels":false,"ticks":false,"title":"EEB","titleFontSize":14,"titleAngle":270,"titleX":-52,"titleY":200,"titleAlign":"left","titleBaseline":"middle"}}
    }},
   {"data":{"name":"bcircle"},"mark":{"type":"point","opacity":0},
    "encoding":{
     "x":{"field":"x","type":"quantitative","scale":{"domain":[3,7],"nice":false,"zero":false},"axis":{"orient":"top","labels":false,"ticks":false,"title":"(b)","titleFontSize":30,"titleColor":"#111","titleX":-80,"titleY":3,"titleAlign":"left","titleBaseline":"alphabetic"}},
     "y":{"field":"y","type":"quantitative","scale":{"domain":[-0.223,1.594],"nice":false,"zero":false},"axis":{"orient":"left","labels":false,"ticks":false,"title":"(eV)","titleFontSize":20,"titleAngle":270,"titleX":-60,"titleY":165,"titleAlign":"left","titleBaseline":"middle"}}
    }},
   {"data":{"name":"bcircle"},"mark":{"type":"point","opacity":0},
    "encoding":{
     "x":{"field":"x","type":"quantitative","scale":{"domain":[3,7],"nice":false,"zero":false},"axis":null},
     "y":{"field":"y","type":"quantitative","scale":{"domain":[-0.223,1.594],"nice":false,"zero":false},"axis":{"orient":"right","labels":false,"ticks":false,"title":"HEB","titleFontSize":14,"titleAngle":270,"titleX":72,"titleY":200,"titleAlign":"left","titleBaseline":"middle"}}
    }},
   {"data":{"name":"bcircle"},"mark":{"type":"point","opacity":0},
    "encoding":{
     "x":{"field":"x","type":"quantitative","scale":{"domain":[3,7],"nice":false,"zero":false},"axis":null},
     "y":{"field":"y","type":"quantitative","scale":{"domain":[-0.223,1.594],"nice":false,"zero":false},"axis":{"orient":"right","labels":false,"ticks":false,"title":"(eV)","titleFontSize":20,"titleAngle":270,"titleX":61,"titleY":165,"titleAlign":"left","titleBaseline":"middle"}}
    }}
  ]},
 {"hconcat":[
  {"width":1,"height":1,"view":{"stroke":null},"data":{"values":[{"v":0}]},"mark":{"type":"point","opacity":0},
   "encoding":{"x":{"field":"v","type":"quantitative","axis":null},"y":{"field":"v","type":"quantitative","axis":null}}},
  {"width":473,"height":384,
   "view":{"stroke":"#000","strokeWidth":2.5},
   "resolve":{"axis":{"x":"independent","y":"independent"}},
   "layer":[
    {"data":{"name":"dline"},"mark":{"type":"line","color":"#13139a","strokeWidth":3.5,"strokeDash":[18,17]},
     "encoding":{
      "x":{"field":"x","type":"quantitative","scale":{"domain":[3.5,5.8],"nice":false,"zero":false},"axis":{"orient":"bottom","values":[3.6,3.8,4,4.2,4.4,4.6,4.8,5,5.2,5.4,5.6,5.8],"format":".1f","ticks":false,"grid":true,"gridColor":"#bdbdbd","gridWidth":1,"labelFontSize":17,"labelFontWeight":"bold","labelColor":"#111","labelPadding":13,"labelFlush":false,"labelOverlap":false,"title":"Work Function of Substrate","titleFontSize":20,"titleFontWeight":"bold","titleColor":"#111","titleY":57,"titleBaseline":"middle"}},
      "y":{"field":"y","type":"quantitative","scale":{"domain":[3,5.8],"reverse":true,"nice":false,"zero":false},"axis":{"orient":"left","values":[3,3.2,3.4,3.6,3.8,4,4.2,4.4,4.6,4.8,5,5.2,5.4,5.6,5.8],"format":".1f","ticks":false,"grid":true,"gridColor":"#bdbdbd","gridWidth":1,"labelFontSize":17,"labelFontWeight":"bold","labelColor":"#111","labelPadding":15,"labelFlush":false,"labelOverlap":false,"title":"Work Function of HaP on substrate","titleFontSize":20,"titleFontWeight":"bold","titleColor":"#111","titleAngle":270,"titleX":-73,"titleY":192,"titleAlign":"center","titleBaseline":"middle"}}
     }},
    {"data":{"name":"dband"},"mark":{"type":"rule","color":"#1c1cf0","strokeWidth":3.5},
     "encoding":{
      "x":{"field":"x1","type":"quantitative","scale":{"domain":[3.5,5.8],"nice":false,"zero":false},"axis":{"orient":"bottom","values":[3.5,3.7,3.9,4.1,4.3,4.5,4.7,4.9,5.1,5.3,5.5,5.7],"labels":false,"ticks":false,"grid":true,"gridColor":"#d0d0d0","gridDash":[2,2],"gridWidth":1,"title":null}},
      "x2":{"field":"x2"},
      "y":{"field":"y","type":"quantitative","scale":{"domain":[3,5.8],"reverse":true,"nice":false,"zero":false},"axis":{"orient":"left","values":[3.1,3.3,3.5,3.7,3.9,4.1,4.3,4.5,4.7,4.9,5.1,5.3,5.5,5.7],"labels":false,"ticks":false,"grid":true,"gridColor":"#d0d0d0","gridDash":[2,2],"gridWidth":1,"title":null}}
     }},
    {"data":{"name":"dbandText"},"mark":{"type":"text","fontSize":20,"color":"#2020f0"},
     "encoding":{
      "x":{"field":"x","type":"quantitative","scale":{"domain":[3.5,5.8],"nice":false,"zero":false},"axis":{"orient":"bottom","values":[3.6,3.7,3.8,3.9,4,4.1,4.2,4.3,4.4,4.5,4.6,4.7,4.8,4.9,5,5.1,5.2,5.3,5.4,5.5,5.6,5.7],"labels":false,"tickSize":-5,"tickColor":"#000","tickWidth":1.5,"title":null}},
      "y":{"field":"y","type":"quantitative","scale":{"domain":[3,5.8],"reverse":true,"nice":false,"zero":false},"axis":{"orient":"left","values":[3.1,3.2,3.3,3.4,3.5,3.6,3.7,3.8,3.9,4,4.1,4.2,4.3,4.4,4.5,4.6,4.7,4.8,4.9,5,5.1,5.2,5.3,5.4,5.5,5.6,5.7],"labels":false,"tickSize":-5,"tickColor":"#000","tickWidth":1.5,"title":null}},
      "text":{"field":"t"}
     }},
    {"data":{"name":"dlab"},"mark":{"type":"text","fontSize":15,"fontWeight":"bold","color":"#111"},
     "encoding":{
      "x":{"field":"x","type":"quantitative","scale":{"domain":[3.5,5.8],"nice":false,"zero":false},"axis":{"orient":"top","values":[3.6,3.7,3.8,3.9,4,4.1,4.2,4.3,4.4,4.5,4.6,4.7,4.8,4.9,5,5.1,5.2,5.3,5.4,5.5,5.6,5.7],"labels":false,"tickSize":-5,"tickColor":"#000","tickWidth":1.5,"title":null}},
      "y":{"field":"y","type":"quantitative","scale":{"domain":[3,5.8],"reverse":true,"nice":false,"zero":false},"axis":{"orient":"right","values":[3.1,3.2,3.3,3.4,3.5,3.6,3.7,3.8,3.9,4,4.1,4.2,4.3,4.4,4.5,4.6,4.7,4.8,4.9,5,5.1,5.2,5.3,5.4,5.5,5.6,5.7],"labels":false,"tickSize":-5,"tickColor":"#000","tickWidth":1.5,"title":null}},
      "text":{"field":"t"}
     }},
    {"data":{"name":"darrow"},"mark":{"type":"rule","color":"#222","strokeWidth":1.2},
     "encoding":{
      "x":{"field":"x","type":"quantitative","scale":{"domain":[3.5,5.8],"nice":false,"zero":false},"axis":{"orient":"bottom","values":[3.6,3.8,4,4.2,4.4,4.6,4.8,5,5.2,5.4,5.6],"labels":false,"tickSize":-8,"tickColor":"#000","tickWidth":1.5,"title":null}},
      "x2":{"field":"x2"},
      "y":{"field":"y","type":"quantitative","scale":{"domain":[3,5.8],"reverse":true,"nice":false,"zero":false},"axis":{"orient":"left","values":[3.2,3.4,3.6,3.8,4,4.2,4.4,4.6,4.8,5,5.2,5.4,5.6],"labels":false,"tickSize":-8,"tickColor":"#000","tickWidth":1.5,"title":null}},
      "y2":{"field":"y2"}
     }},
    {"data":{"name":"darrow"},"mark":{"type":"point","shape":"triangle-up","size":45,"filled":true,"color":"#222","opacity":1,"angle":52},
     "encoding":{
      "x":{"field":"x2","type":"quantitative","scale":{"domain":[3.5,5.8],"nice":false,"zero":false},"axis":{"orient":"top","values":[3.6,3.8,4,4.2,4.4,4.6,4.8,5,5.2,5.4,5.6],"labels":false,"tickSize":-8,"tickColor":"#000","tickWidth":1.5,"title":null}},
      "y":{"field":"y2","type":"quantitative","scale":{"domain":[3,5.8],"reverse":true,"nice":false,"zero":false},"axis":{"orient":"right","values":[3.2,3.4,3.6,3.8,4,4.2,4.4,4.6,4.8,5,5.2,5.4,5.6],"labels":false,"tickSize":-8,"tickColor":"#000","tickWidth":1.5,"title":null}}
     }},
    {"data":{"name":"derrG"},"mark":{"type":"errorbar","ticks":{"size":8},"thickness":1.2,"color":"#1f8a1f"},
     "encoding":{
      "x":{"field":"x","type":"quantitative","scale":{"domain":[3.5,5.8],"nice":false,"zero":false},"axis":{"orient":"top","labels":false,"ticks":false,"title":"(d)","titleFontSize":30,"titleColor":"#111","titleX":-100,"titleY":-23,"titleAlign":"left","titleBaseline":"alphabetic"}},
      "y":{"field":"lo","type":"quantitative","scale":{"domain":[3,5.8],"reverse":true,"nice":false,"zero":false},"axis":null},
      "y2":{"field":"hi"}
     }},
    {"data":{"name":"derrK"},"mark":{"type":"errorbar","ticks":{"size":8},"thickness":1.2,"color":"#000000"},
     "encoding":{
      "x":{"field":"x","type":"quantitative","scale":{"domain":[3.5,5.8],"nice":false,"zero":false},"axis":null},
      "y":{"field":"lo","type":"quantitative","scale":{"domain":[3,5.8],"reverse":true,"nice":false,"zero":false},"axis":null},
      "y2":{"field":"hi"}
     }},
    {"data":{"name":"dpts"},"mark":{"type":"point","filled":true,"size":120,"opacity":1},
     "encoding":{
      "x":{"field":"x","type":"quantitative","scale":{"domain":[3.5,5.8],"nice":false,"zero":false},"axis":null},
      "y":{"field":"y","type":"quantitative","scale":{"domain":[3,5.8],"reverse":true,"nice":false,"zero":false},"axis":null},
      "color":{"field":"series","type":"nominal","scale":{"domain":["MAPbBr(Cl)","CsPbBr3","MAPbBr3"],"range":["#000000","#ff1111","#1f8a1f"]},
       "legend":{"orient":"none","legendX":47,"legendY":267,"title":null,"labelFontSize":18,"symbolSize":110,"labelOffset":12,"rowPadding":5,"padding":0,"labelColor":"#111"}},
      "shape":{"field":"series","type":"nominal","scale":{"domain":["MAPbBr(Cl)","CsPbBr3","MAPbBr3"],"range":["square","circle","diamond"]},
       "legend":{"orient":"none","legendX":47,"legendY":267,"title":null,"labelFontSize":18,"symbolSize":110,"labelOffset":12,"rowPadding":5,"padding":0,"labelColor":"#111"}}
     }}
   ]}
 ],"spacing":24,"bounds":"flush","resolve":{"scale":{"color":"independent","shape":"independent"}}}
],"spacing":83,"bounds":"flush","resolve":{"scale":{"color":"independent","shape":"independent"}}}
],
"config":{
 "font":"Liberation Sans",
 "view":{"stroke":"#222","strokeWidth":2},
 "axis":{"domain":false,"grid":false,"labelColor":"#222","titleColor":"#222","tickColor":"#222","tickWidth":1.2,"titleFontWeight":"normal"}
}
}
